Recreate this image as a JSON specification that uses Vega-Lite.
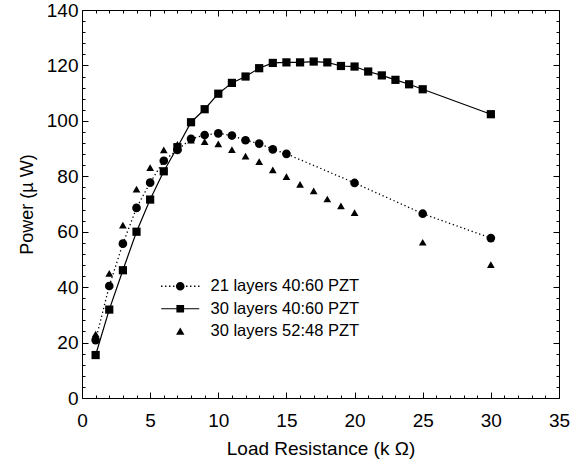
{
  "$schema": "https://vega.github.io/schema/vega-lite/v6.json",
  "width": 477,
  "height": 388,
  "autosize": {"type": "none"},
  "padding": {"left": 82, "top": 10, "right": 28, "bottom": 68},
  "background": "white",
  "config": {
    "view": {"stroke": "black", "strokeWidth": 1},
    "font": "Liberation Sans"
  },
  "data": {
    "values": [
      {"series": "21 layers 40:60 PZT", "R": 1, "P": 20.9},
      {"series": "21 layers 40:60 PZT", "R": 2, "P": 40.4},
      {"series": "21 layers 40:60 PZT", "R": 3, "P": 55.7},
      {"series": "21 layers 40:60 PZT", "R": 4, "P": 68.6},
      {"series": "21 layers 40:60 PZT", "R": 5, "P": 77.7},
      {"series": "21 layers 40:60 PZT", "R": 6, "P": 85.6},
      {"series": "21 layers 40:60 PZT", "R": 7, "P": 89.5},
      {"series": "21 layers 40:60 PZT", "R": 8, "P": 93.5},
      {"series": "21 layers 40:60 PZT", "R": 9, "P": 94.9},
      {"series": "21 layers 40:60 PZT", "R": 10, "P": 95.5},
      {"series": "21 layers 40:60 PZT", "R": 11, "P": 94.7},
      {"series": "21 layers 40:60 PZT", "R": 12, "P": 93.0},
      {"series": "21 layers 40:60 PZT", "R": 13, "P": 91.8},
      {"series": "21 layers 40:60 PZT", "R": 14, "P": 89.7},
      {"series": "21 layers 40:60 PZT", "R": 15, "P": 88.1},
      {"series": "21 layers 40:60 PZT", "R": 20, "P": 77.6},
      {"series": "21 layers 40:60 PZT", "R": 25, "P": 66.5},
      {"series": "21 layers 40:60 PZT", "R": 30, "P": 57.7},
      {"series": "30 layers 40:60 PZT", "R": 1, "P": 15.5},
      {"series": "30 layers 40:60 PZT", "R": 2, "P": 31.9},
      {"series": "30 layers 40:60 PZT", "R": 3, "P": 46.1},
      {"series": "30 layers 40:60 PZT", "R": 4, "P": 60.0},
      {"series": "30 layers 40:60 PZT", "R": 5, "P": 71.6},
      {"series": "30 layers 40:60 PZT", "R": 6, "P": 81.8},
      {"series": "30 layers 40:60 PZT", "R": 7, "P": 90.5},
      {"series": "30 layers 40:60 PZT", "R": 8, "P": 99.5},
      {"series": "30 layers 40:60 PZT", "R": 9, "P": 104.2},
      {"series": "30 layers 40:60 PZT", "R": 10, "P": 109.8},
      {"series": "30 layers 40:60 PZT", "R": 11, "P": 113.7},
      {"series": "30 layers 40:60 PZT", "R": 12, "P": 116.0},
      {"series": "30 layers 40:60 PZT", "R": 13, "P": 119.0},
      {"series": "30 layers 40:60 PZT", "R": 14, "P": 120.9},
      {"series": "30 layers 40:60 PZT", "R": 15, "P": 121.1},
      {"series": "30 layers 40:60 PZT", "R": 16, "P": 121.1},
      {"series": "30 layers 40:60 PZT", "R": 17, "P": 121.4},
      {"series": "30 layers 40:60 PZT", "R": 18, "P": 121.1},
      {"series": "30 layers 40:60 PZT", "R": 19, "P": 119.8},
      {"series": "30 layers 40:60 PZT", "R": 20, "P": 119.6},
      {"series": "30 layers 40:60 PZT", "R": 21, "P": 117.8},
      {"series": "30 layers 40:60 PZT", "R": 22, "P": 116.4},
      {"series": "30 layers 40:60 PZT", "R": 23, "P": 114.8},
      {"series": "30 layers 40:60 PZT", "R": 24, "P": 113.2},
      {"series": "30 layers 40:60 PZT", "R": 25, "P": 111.4},
      {"series": "30 layers 40:60 PZT", "R": 30, "P": 102.4},
      {"series": "30 layers 52:48 PZT", "R": 1, "P": 23.1},
      {"series": "30 layers 52:48 PZT", "R": 2, "P": 45.0},
      {"series": "30 layers 52:48 PZT", "R": 3, "P": 62.4},
      {"series": "30 layers 52:48 PZT", "R": 4, "P": 75.4},
      {"series": "30 layers 52:48 PZT", "R": 5, "P": 83.1},
      {"series": "30 layers 52:48 PZT", "R": 6, "P": 89.5},
      {"series": "30 layers 52:48 PZT", "R": 7, "P": 91.5},
      {"series": "30 layers 52:48 PZT", "R": 8, "P": 93.0},
      {"series": "30 layers 52:48 PZT", "R": 9, "P": 92.5},
      {"series": "30 layers 52:48 PZT", "R": 10, "P": 91.7},
      {"series": "30 layers 52:48 PZT", "R": 11, "P": 89.6},
      {"series": "30 layers 52:48 PZT", "R": 12, "P": 87.3},
      {"series": "30 layers 52:48 PZT", "R": 13, "P": 85.3},
      {"series": "30 layers 52:48 PZT", "R": 14, "P": 82.3},
      {"series": "30 layers 52:48 PZT", "R": 15, "P": 79.9},
      {"series": "30 layers 52:48 PZT", "R": 16, "P": 77.1},
      {"series": "30 layers 52:48 PZT", "R": 17, "P": 74.7},
      {"series": "30 layers 52:48 PZT", "R": 18, "P": 71.8},
      {"series": "30 layers 52:48 PZT", "R": 19, "P": 69.3},
      {"series": "30 layers 52:48 PZT", "R": 20, "P": 66.9},
      {"series": "30 layers 52:48 PZT", "R": 25, "P": 56.2},
      {"series": "30 layers 52:48 PZT", "R": 30, "P": 48.1}
    ]
  },
  "resolve": {"axis": {"x": "independent", "y": "independent"}, "scale": {"shape": "independent"}},
  "layer": [
    {
      "layer": [
        {
          "transform": [{"filter": "datum.series === '21 layers 40:60 PZT'"}],
          "mark": {"type": "line", "color": "black", "strokeWidth": 1.3, "strokeDash": [1.3, 2.7]},
          "encoding": {}
        },
        {
          "transform": [{"filter": "datum.series === '30 layers 40:60 PZT'"}],
          "mark": {"type": "line", "color": "black", "strokeWidth": 1.2},
          "encoding": {}
        },
        {
          "mark": {"type": "point", "filled": true, "color": "black", "opacity": 1},
          "encoding": {
            "shape": {"field": "series", "type": "nominal", "legend": null,
              "scale": {"domain": ["21 layers 40:60 PZT", "30 layers 40:60 PZT", "30 layers 52:48 PZT"], "range": ["circle", "square", "triangle-up"]}},
            "size": {"field": "series", "type": "nominal", "legend": null,
              "scale": {"domain": ["21 layers 40:60 PZT", "30 layers 40:60 PZT", "30 layers 52:48 PZT"], "range": [75, 60, 72]}}
          }
        }
      ],
      "encoding": {
        "x": {"field": "R", "type": "quantitative", "scale": {"domain": [0, 35], "nice": false, "zero": false},
          "axis": {"orient": "bottom", "values": [0,1,2,3,4,5,6,7,8,9,10,11,12,13,14,15,16,17,18,19,20,21,22,23,24,25,26,27,28,29,30,31,32,33,34,35],
            "labelExpr": "datum.value % 5 === 0 ? datum.label : ''",
            "tickSize": {"condition": {"test": "datum.value % 5 === 0", "value": -6}, "value": -3},
            "domain": false, "grid": false, "tickColor": "black", "labelColor": "black",
            "labelFontSize": 19, "labelPadding": 19, "labelFlush": false, "labelOverlap": false,
            "title": "Load Resistance (k Ω)", "titleFontSize": 19, "titleFontWeight": "normal", "titleColor": "black", "titlePadding": 6}},
        "y": {"field": "P", "type": "quantitative", "scale": {"domain": [0, 140], "nice": false, "zero": false},
          "axis": {"orient": "left", "values": [0,4,8,12,16,20,24,28,32,36,40,44,48,52,56,60,64,68,72,76,80,84,88,92,96,100,104,108,112,116,120,124,128,132,136,140],
            "labelExpr": "datum.value % 20 === 0 ? datum.label : ''",
            "tickSize": {"condition": {"test": "datum.value % 20 === 0", "value": -6}, "value": -3},
            "domain": false, "grid": false, "tickColor": "black", "labelColor": "black",
            "labelFontSize": 19, "labelPadding": 10, "labelFlush": false, "labelOverlap": false,
            "title": "Power (µ W)", "titleFontSize": 18, "titleFontWeight": "normal", "titleColor": "black", "titlePadding": 10}}
      }
    },
    {
      "mark": {"type": "point", "filled": true, "color": "black", "opacity": 0, "size": 64},
      "encoding": {
        "x": {"field": "R", "type": "quantitative", "scale": {"domain": [0, 35], "nice": false, "zero": false},
          "axis": {"orient": "top", "values": [0,1,2,3,4,5,6,7,8,9,10,11,12,13,14,15,16,17,18,19,20,21,22,23,24,25,26,27,28,29,30,31,32,33,34,35],
            "labels": false, "title": null,
            "tickSize": {"condition": {"test": "datum.value % 5 === 0", "value": -6}, "value": -3},
            "domain": false, "grid": false, "tickColor": "black"}},
        "y": {"field": "P", "type": "quantitative", "scale": {"domain": [0, 140], "nice": false, "zero": false},
          "axis": {"orient": "right", "values": [0,4,8,12,16,20,24,28,32,36,40,44,48,52,56,60,64,68,72,76,80,84,88,92,96,100,104,108,112,116,120,124,128,132,136,140],
            "labels": false, "title": null,
            "tickSize": {"condition": {"test": "datum.value % 20 === 0", "value": -6}, "value": -3},
            "domain": false, "grid": false, "tickColor": "black"}},
        "shape": {"field": "series", "type": "nominal",
          "scale": {"domain": ["21 layers 40:60 PZT", "30 layers 40:60 PZT", "30 layers 52:48 PZT"],
            "range": [
              "M -1.08 0 A 1.08 1.08 0 1 0 1.08 0 A 1.08 1.08 0 1 0 -1.08 0 Z M -4.8 -0.17 H -4.45 V 0.17 H -4.8 Z M -3.8 -0.17 H -3.45 V 0.17 H -3.8 Z M -2.8 -0.17 H -2.45 V 0.17 H -2.8 Z M -1.8 -0.17 H -1.45 V 0.17 H -1.8 Z M 1.45 -0.17 H 1.8 V 0.17 H 1.45 Z M 2.45 -0.17 H 2.8 V 0.17 H 2.45 Z M 3.45 -0.17 H 3.8 V 0.17 H 3.45 Z M 4.45 -0.17 H 4.8 V 0.17 H 4.45 Z",
              "M -4.75 -0.15 H 4.75 V 0.15 H -4.75 Z M -0.96 -0.96 H 0.96 V 0.96 H -0.96 Z",
              "M 0 -0.95 L 1.05 0.85 L -1.05 0.85 Z"
            ]},
          "legend": {"orient": "none", "legendX": 90, "legendY": 268, "title": null, "padding": 0,
            "symbolSize": 64, "symbolOpacity": 1, "symbolFillColor": "black", "symbolStrokeColor": "black", "symbolStrokeWidth": 0,
            "labelFontSize": 16.5, "labelColor": "black", "labelOffset": 22, "rowPadding": 5.5, "labelLimit": 400}}
      }
    }
  ]
}
